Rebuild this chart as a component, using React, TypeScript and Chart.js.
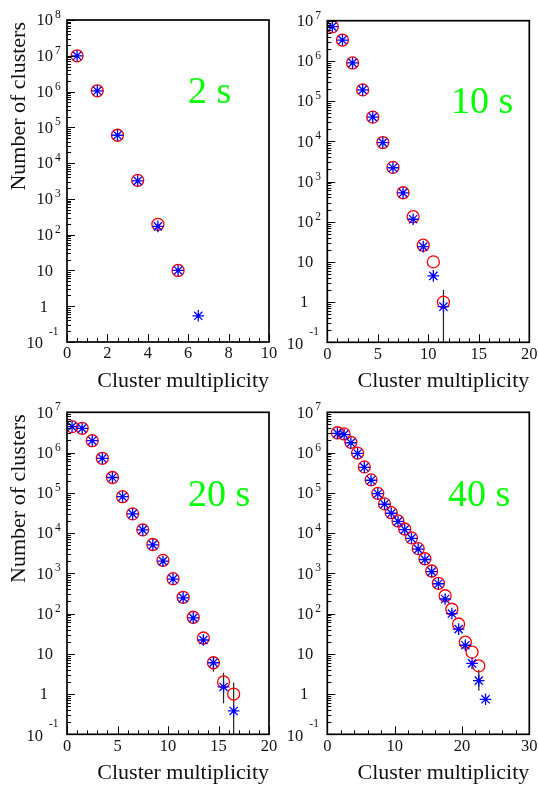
import React, { useEffect, useRef } from "react";
import { Chart, registerables } from "chart.js";

Chart.register(...registerables);

// ---------- data ----------
const x2 = [0.5, 1.5, 2.5, 3.5, 4.5, 5.5, 6.5];
const red2 = [1.0e7, 1.05e6, 6.0e4, 3.3e3, 195, 10];
const blue2 = [1.0e7, 1.05e6, 6.0e4, 3.2e3, 170, 10, 0.54];

const x10 = [0.5, 1.5, 2.5, 3.5, 4.5, 5.5, 6.5, 7.5, 8.5, 9.5, 10.5, 11.5];
const red10 = [7.1e6, 3.3e6, 8.9e5, 1.9e5, 4.0e4, 9.3e3, 2.25e3, 525, 133, 26, 10, 1.0];
const blue10 = [7.1e6, 3.3e6, 8.9e5, 1.9e5, 4.0e4, 9.3e3, 2.2e3, 520, 115, 24, 4.5, 0.77];
const err10 = [{ x: 11.5, lo: 0.01, hi: 2.0 }];

const x20 = [0.5, 1.5, 2.5, 3.5, 4.5, 5.5, 6.5, 7.5, 8.5, 9.5, 10.5, 11.5, 12.5, 13.5, 14.5, 15.5, 16.5];
const red20 = [4.4e6, 4.0e6, 1.97e6, 7.2e5, 2.4e5, 8.0e4, 3.0e4, 1.2e4, 5.2e3, 2.1e3, 735, 253, 81, 24.7, 6.0, 2.0, 1.0];
const blue20 = [4.4e6, 4.0e6, 1.97e6, 7.2e5, 2.4e5, 8.0e4, 3.0e4, 1.2e4, 5.1e3, 2.0e3, 720, 245, 78, 22, 6.0, 1.5, 0.38];
const err20 = [
  { x: 14.5, lo: 3.6, hi: 8.5 },
  { x: 15.5, lo: 0.59, hi: 3.4 },
  { x: 16.5, lo: 0.01, hi: 1.95 },
];

const x40 = [1.5, 2.5, 3.5, 4.5, 5.5, 6.5, 7.5, 8.5, 9.5, 10.5, 11.5, 12.5, 13.5, 14.5, 15.5, 16.5, 17.5, 18.5, 19.5, 20.5, 21.5, 22.5, 23.5];
const red40 = [3.1e6, 2.9e6, 1.8e6, 9.7e5, 4.4e5, 2.1e5, 9.7e4, 5.3e4, 3.2e4, 2.0e4, 1.26e4, 7.6e3, 4.1e3, 2.3e3, 1.14e3, 565, 277, 128, 55, 19.4, 11, 5.0];
const blue40 = [3.0e6, 2.8e6, 1.75e6, 9.5e5, 4.3e5, 2.05e5, 9.5e4, 5.2e4, 3.1e4, 1.95e4, 1.22e4, 7.4e3, 4.0e3, 2.2e3, 1.1e3, 550, 230, 100, 41, 16.3, 5.8, 2.15, 0.74];
const err40 = [{ x: 22.5, lo: 1.2, hi: 4.0 }];

const xTitle = "Cluster multiplicity";
const yTitle = "Number of clusters";

// ---------- panel config ----------
type Err = { x: number; lo: number; hi: number };
type Panel = {
  pad: { left: number; top: number; right: number; bottom: number };
  xMax: number;
  xMajor: number;
  xMinor: number;
  yMaxExp: number;
  xs: number[];
  red: number[];
  blue: number[];
  err: Err[];
  label: string;
  labelX: number;
  labelY: number;
  showYTitle: boolean;
};

const W = 538;
const H = 787;

const panels: Panel[] = [
  {
    pad: { left: 67, top: 20, right: W - 269, bottom: H - 342 },
    xMax: 10, xMajor: 2, xMinor: 0.5, yMaxExp: 8,
    xs: x2, red: red2, blue: blue2, err: [],
    label: "2 s", labelX: 188, labelY: 103, showYTitle: true,
  },
  {
    pad: { left: 327.3, top: 20.7, right: W - 529.3, bottom: H - 342.3 },
    xMax: 20, xMajor: 5, xMinor: 1, yMaxExp: 7,
    xs: x10, red: red10, blue: blue10, err: err10,
    label: "10 s", labelX: 451, labelY: 113, showYTitle: false,
  },
  {
    pad: { left: 67, top: 412.3, right: W - 269, bottom: H - 734.3 },
    xMax: 20, xMajor: 5, xMinor: 1, yMaxExp: 7,
    xs: x20, red: red20, blue: blue20, err: err20,
    label: "20 s", labelX: 188, labelY: 506, showYTitle: true,
  },
  {
    pad: { left: 327.3, top: 412.3, right: W - 529.3, bottom: H - 734.3 },
    xMax: 30, xMajor: 10, xMinor: 2, yMaxExp: 7,
    xs: x40, red: red40, blue: blue40, err: err40,
    label: "40 s", labelX: 448, labelY: 506, showYTitle: false,
  },
];

const SERIF = '"Liberation Serif", "DejaVu Serif", serif';

function makeAxesPlugin(p: Panel) {
  return {
    id: "rootAxes",
    afterDraw(chart: any) {
      const ctx: CanvasRenderingContext2D = chart.ctx;
      const { left, right, top, bottom } = chart.chartArea;
      const xs = chart.scales.x;
      const ys = chart.scales.y;
      ctx.save();
      ctx.strokeStyle = "#000";
      ctx.fillStyle = "#000";

      // y ticks
      ctx.lineWidth = 1;
      ctx.beginPath();
      for (let e = -1; e <= p.yMaxExp; e++) {
        const v = Math.pow(10, e);
        const py = Math.round(ys.getPixelForValue(v)) + 0.5;
        ctx.moveTo(left, py);
        ctx.lineTo(left + 8, py);
        if (e < p.yMaxExp) {
          for (let m = 2; m <= 9; m++) {
            const my = Math.round(ys.getPixelForValue(m * v)) + 0.5;
            ctx.moveTo(left, my);
            ctx.lineTo(left + 4, my);
          }
        }
      }
      // x ticks
      const n = Math.round(p.xMax / p.xMinor);
      for (let i = 0; i <= n; i++) {
        const v = i * p.xMinor;
        const major = Math.abs(v / p.xMajor - Math.round(v / p.xMajor)) < 1e-6;
        const px = Math.round(xs.getPixelForValue(v)) + 0.5;
        ctx.moveTo(px, bottom);
        ctx.lineTo(px, bottom - (major ? 8 : 4));
      }
      ctx.stroke();

      // frame
      ctx.lineWidth = 1.7;
      ctx.strokeRect(left, top, right - left, bottom - top);

      // y labels
      ctx.fillStyle = "#111";
      for (let e = -1; e <= p.yMaxExp; e++) {
        const py = ys.getPixelForValue(Math.pow(10, e));
        ctx.font = `16.5px ${SERIF}`;
        ctx.textBaseline = "middle";
        if (e >= 2) {
          ctx.textAlign = "right";
          ctx.fillText("10", left - 14, py + 1);
          ctx.font = `11.5px ${SERIF}`;
          ctx.textAlign = "left";
          ctx.fillText(String(e), left - 12, py - 5);
        } else if (e === 1) {
          ctx.textAlign = "right";
          ctx.fillText("10", left - 14, py + 1);
        } else if (e === 0) {
          ctx.textAlign = "right";
          ctx.fillText("1", left - 19, py + 1);
        } else {
          ctx.textAlign = "right";
          ctx.fillText("10", left - 24, py + 2);
          ctx.font = `11.5px ${SERIF}`;
          ctx.textAlign = "left";
          ctx.fillText("-1", left - 18, py - 10);
        }
      }

      // x labels
      ctx.font = `16.5px ${SERIF}`;
      ctx.textAlign = "center";
      ctx.textBaseline = "middle";
      const nm = Math.round(p.xMax / p.xMajor);
      for (let i = 0; i <= nm; i++) {
        const v = i * p.xMajor;
        ctx.fillText(String(v), xs.getPixelForValue(v), bottom + 12);
      }

      // titles
      ctx.font = `22px ${SERIF}`;
      ctx.textAlign = "right";
      ctx.textBaseline = "middle";
      ctx.fillText(xTitle, right, bottom + 39);
      if (p.showYTitle) {
        ctx.save();
        ctx.translate(19, top + 2);
        ctx.rotate(-Math.PI / 2);
        ctx.textAlign = "right";
        ctx.textBaseline = "middle";
        ctx.fillText(yTitle, 0, 0);
        ctx.restore();
      }

      // time label
      ctx.font = `38px ${SERIF}`;
      ctx.fillStyle = "#00ff00";
      ctx.textAlign = "left";
      ctx.textBaseline = "alphabetic";
      ctx.fillText(p.label, p.labelX, p.labelY);

      ctx.restore();
    },
  };
}

function PanelChart({ p }: { p: Panel }) {
  const ref = useRef<HTMLCanvasElement | null>(null);
  useEffect(() => {
    if (!ref.current) return;
    const redPts = p.red.map((v, i) => ({ x: p.xs[i], y: v }));
    const bluePts = p.blue.map((v, i) => ({ x: p.xs[i], y: v }));
    const errSets = p.err.map((e) => ({
      type: "line" as const,
      data: [{ x: e.x, y: e.lo }, { x: e.x, y: e.hi }],
      borderColor: "#222",
      borderWidth: 1.2,
      pointRadius: 0,
      showLine: true,
      order: 3,
    }));
    const chart = new Chart(ref.current, {
      type: "scatter",
      data: {
        datasets: [
          ...errSets,
          {
            data: redPts,
            pointStyle: "circle",
            pointRadius: 6,
            borderColor: "#ff0000",
            backgroundColor: "rgba(0,0,0,0)",
            borderWidth: 1.3,
            order: 2,
          },
          {
            data: bluePts,
            pointStyle: "star",
            pointRadius: 5.8,
            borderColor: "#0000ff",
            backgroundColor: "#0000ff",
            borderWidth: 1.3,
            order: 1,
          },
          {
            data: bluePts,
            pointStyle: "circle",
            pointRadius: 1.8,
            borderColor: "#0000ff",
            backgroundColor: "#0000ff",
            borderWidth: 0,
            order: 0,
          },
        ] as any,
      },
      options: {
        animation: false,
        responsive: false,
        devicePixelRatio: 1,
        layout: { padding: p.pad },
        plugins: { legend: { display: false }, tooltip: { enabled: false } },
        events: [],
        scales: {
          x: { type: "linear", min: 0, max: p.xMax, display: false },
          y: { type: "logarithmic", min: 0.1, max: Math.pow(10, p.yMaxExp), display: false },
        },
      },
      plugins: [makeAxesPlugin(p)],
    });
    return () => chart.destroy();
  }, [p]);
  return (
    <canvas
      ref={ref}
      width={W}
      height={H}
      style={{ position: "absolute", left: 0, top: 0, width: W, height: H }}
    />
  );
}

export default function App() {
  return (
    <div style={{ position: "absolute", left: 0, top: 0, width: W, height: H, background: "#fff" }}>
      {panels.map((p, i) => (
        <PanelChart key={i} p={p} />
      ))}
    </div>
  );
}
